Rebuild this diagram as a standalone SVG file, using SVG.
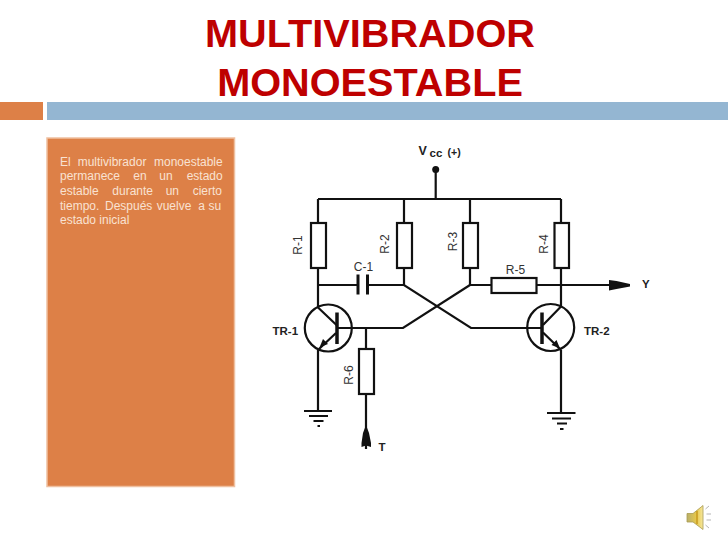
<svg xmlns="http://www.w3.org/2000/svg" width="728" height="546" viewBox="0 0 728 546">
<defs>
<linearGradient id="cone" x1="0" y1="0" x2="1" y2="0"><stop offset="0" stop-color="#b9b06a"/><stop offset="0.6" stop-color="#e8c84a"/><stop offset="1" stop-color="#f6e8a0"/></linearGradient>
</defs>
<style>
.title{font:bold 39.700px "Liberation Sans",Arial,sans-serif;fill:#BE0000;text-anchor:middle}
.body{font:12px "Liberation Sans",Arial,sans-serif;fill:#F9E2D2}
.w{fill:none;stroke:#111;stroke-width:2.200}
.res{fill:#fff;stroke:#111;stroke-width:2.200}
.lbl{font:12px "Liberation Sans",Arial,sans-serif;fill:#333;text-anchor:middle}
.b{font:bold 11.500px "Liberation Sans",Arial,sans-serif;fill:#222}
</style>
<rect width="728" height="546" fill="#fff"/>
<g id="title">
<text class="title" x="370" y="47">MULTIVIBRADOR</text>
<text class="title" x="370" y="95.500">MONOESTABLE</text>
</g>
<g id="header-bars">
<rect x="0" y="102" width="43" height="18" fill="#DD8047"/>
<rect x="47" y="102" width="681" height="18" fill="#94B6D2"/>
</g>
<g id="text-panel">
<rect x="47" y="138" width="187.500" height="348.500" fill="#DD8047" stroke="#EFC0A0" stroke-width="1.500"/>
<text class="body"><tspan x="60" y="165.500">El</tspan><tspan x="77.700" y="165.500">multivibrador</tspan><tspan x="154" y="165.500">monoestable</tspan></text>
<text class="body"><tspan x="60" y="180.200">permanece</tspan><tspan x="133.300" y="180.200">en</tspan><tspan x="159.300" y="180.200">un</tspan><tspan x="186.700" y="180.200">estado</tspan></text>
<text class="body"><tspan x="60" y="195">estable</tspan><tspan x="112.300" y="195">durante</tspan><tspan x="165.700" y="195">un</tspan><tspan x="192.700" y="195">cierto</tspan></text>
<text class="body"><tspan x="60" y="209.700">tiempo.</tspan><tspan x="105" y="209.700">Después</tspan><tspan x="156.700" y="209.700">vuelve</tspan><tspan x="198.300" y="209.700">a</tspan><tspan x="208.500" y="209.700">su</tspan></text>
<text class="body" x="60" y="224.300">estado inicial</text>
</g>
<g id="connectors">
<path class="w" d="M435.700 169V199M318 199H561M318 199V223M404 199V223M470 199V223M561 199V223"/>
<path class="w" d="M318 267V307M404 267V285M470 267V285M561 267V307"/>
<path class="w" d="M318 285H358M367.500 285H404L471 328H542"/>
<path class="w" d="M470 285L403 328H337M470 285H491M536 285H609"/>
<path class="w" d="M318 350V411M561 350V413M366 328V349M366 393V449"/>
</g>
<g id="vcc">
<circle cx="435.700" cy="169.500" r="3.500" fill="#111"/>
<text class="b" x="418.500" y="155" style="font-size:12.500px">V</text>
<text class="b" x="429.500" y="157">cc</text>
<text class="b" x="447.500" y="156" style="font-size:10.500px">(+)</text>
</g>
<g id="R-1"><rect class="res" x="311" y="223" width="15" height="45"/><text class="lbl" transform="translate(302 245) rotate(-90)">R-1</text></g>
<g id="R-2"><rect class="res" x="397" y="223" width="15" height="45"/><text class="lbl" transform="translate(389 244) rotate(-90)">R-2</text></g>
<g id="R-3"><rect class="res" x="463" y="223" width="15" height="45"/><text class="lbl" transform="translate(457 241.500) rotate(-90)">R-3</text></g>
<g id="R-4"><rect class="res" x="554.500" y="223" width="14.500" height="45"/><text class="lbl" transform="translate(548 244) rotate(-90)">R-4</text></g>
<g id="R-5"><rect class="res" x="491.500" y="278" width="45" height="15"/><text class="lbl" x="515.500" y="274">R-5</text></g>
<g id="R-6"><rect class="res" x="359" y="349" width="15" height="45"/><text class="lbl" transform="translate(353 375) rotate(-90)">R-6</text></g>
<g id="C-1">
<path d="M358 274.500V294.500M367.500 274.500V294.500" fill="none" stroke="#111" stroke-width="3"/>
<text class="lbl" x="363.500" y="271">C-1</text>
</g>
<g id="TR-1">
<circle cx="328.300" cy="328" r="23.500" fill="none" stroke="#111" stroke-width="2.200"/>
<path d="M337 312.500V344" fill="none" stroke="#111" stroke-width="3.500"/>
<path class="w" d="M317.500 307L337 325.500M336 333L319 349"/>
<path d="M319.500 347.500L323 339L328 344Z" fill="#111"/>
<text class="b" x="272.500" y="335">TR-1</text>
</g>
<g id="TR-2">
<circle cx="550.700" cy="327.500" r="23.500" fill="none" stroke="#111" stroke-width="2.200"/>
<path d="M542 312.500V344" fill="none" stroke="#111" stroke-width="3.500"/>
<path class="w" d="M561 306.500L543 325M543 332.500L561 350"/>
<path d="M560 348.500L551.500 345L556.500 340Z" fill="#111"/>
<text class="b" x="584" y="335">TR-2</text>
</g>
<g id="ground-1">
<path class="w" d="M304 411H332M309 416H328M313.500 421H323.500M317.500 426H320"/>
</g>
<g id="ground-2">
<path class="w" d="M547 413H575.500M552 418.500H571M557 423.500H567M560 429H563.500"/>
</g>
<g id="output-Y">
<path d="M609 280L616.500 281L630 284V286.500L616.500 289L609 290.500Z" fill="#111"/>
<text class="b" x="642" y="288">Y</text>
</g>
<g id="input-T">
<path d="M366 425L369 433L371 443V447L366 445.500L361.500 447V443L363 433Z" fill="#111"/>
<text class="b" x="378.500" y="451">T</text>
</g>
<g id="speaker">
<path d="M687 513.500H693L703 505.500V529.500L693 522H687Z" fill="url(#cone)" stroke="#a89a50" stroke-width="0.800"/>
<path d="M697 511V524" stroke="#c79a20" stroke-width="1.500"/>
<path d="M705.500 509L709 506M706.500 514H711M706.500 520H711M705.500 525L709 528" stroke="#b5b5b5" stroke-width="1" fill="none"/>
</g>
</svg>
